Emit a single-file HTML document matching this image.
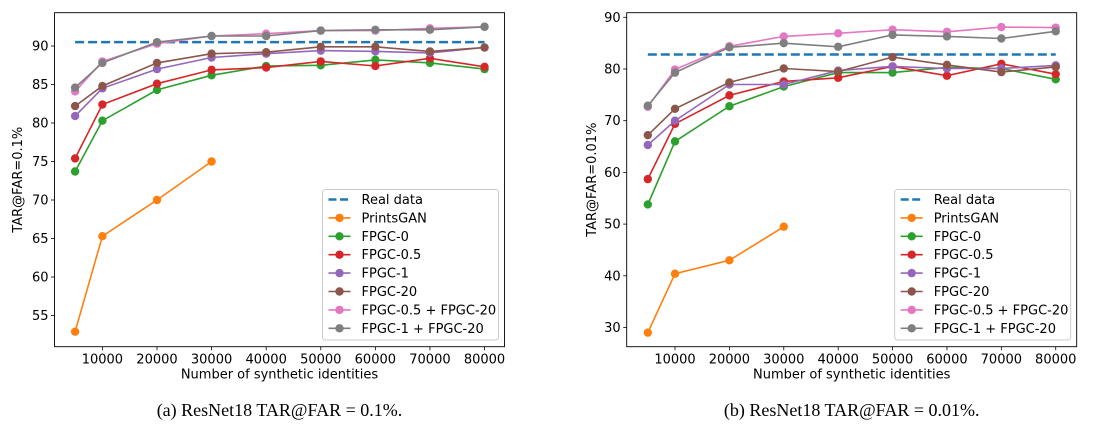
<!DOCTYPE html>
<html><head><meta charset="utf-8">
<style>
body{margin:0;background:#fff;}
svg text{font-family:"DejaVu Sans","Liberation Sans",sans-serif;}
</style></head>
<body>
<svg id="fig" width="1096" height="433" xmlns="http://www.w3.org/2000/svg"></svg>
<script>
const xCats = [5000,10000,20000,30000,40000,50000,60000,70000,80000];
const xTicks = [10000,20000,30000,40000,50000,60000,70000,80000];
const seriesNames = ["Real data","PrintsGAN","FPGC-0","FPGC-0.5","FPGC-1","FPGC-20","FPGC-0.5 + FPGC-20","FPGC-1 + FPGC-20"];
const seriesColors = ["#1f77b4","#ff7f0e","#2ca02c","#d62728","#9467bd","#8c564b","#e377c2","#7f7f7f"];
// Chart A: TAR@FAR=0.1%
const aReal = 90.5;
const aPrints = [52.9,65.3,70.0,75.0];
const aF0 = [73.7,80.3,84.3,86.2,87.4,87.5,88.2,87.8,87.0];
const aF05 = [75.4,82.4,85.1,86.9,87.2,88.0,87.4,88.4,87.3];
const aF1 = [80.9,84.5,87.0,88.5,89.0,89.4,89.3,89.1,89.8];
const aF20 = [82.2,84.8,87.8,89.0,89.2,89.9,89.9,89.3,89.8];
const aF05_20 = [84.1,88.0,90.3,91.3,91.6,92.0,92.0,92.3,92.5];
const aF1_20 = [84.6,87.8,90.5,91.3,91.3,92.0,92.1,92.1,92.5];
const aYTicks = [55,60,65,70,75,80,85,90];
// Chart B: TAR@FAR=0.01%
const bReal = 82.8;
const bPrints = [29.0,40.4,43.0,49.5];
const bF0 = [53.8,66.0,72.8,76.6,79.3,79.3,80.3,80.1,78.0];
const bF05 = [58.7,69.4,74.9,77.6,78.3,80.5,78.7,81.0,79.0];
const bF1 = [65.3,70.0,77.0,77.0,79.7,80.5,80.1,80.1,80.7];
const bF20 = [67.2,72.3,77.4,80.1,79.5,82.3,80.8,79.4,80.4];
const bF05_20 = [72.7,79.9,84.4,86.3,86.9,87.6,87.2,88.1,88.0];
const bF1_20 = [72.9,79.3,84.2,85.0,84.3,86.6,86.3,85.9,87.3];
const bYTicks = [30,40,50,60,70,80,90];

const NS="http://www.w3.org/2000/svg";
const svg=document.getElementById('fig');
function mk(tag,attrs,parent){const e=document.createElementNS(NS,tag);for(const k in attrs)e.setAttribute(k,attrs[k]);(parent||svg).appendChild(e);return e;}

function drawChart(cfg){
  const g=mk('g',{});
  
  
  const L=cfg.left,R=cfg.right,T=12.7,B=346.7;
  const xs=v=>cfg.x0px+(v-cfg.x0)*cfg.xpx;
  const ys=v=>cfg.y0px-(v-cfg.y0)*cfg.ypx;
  cfg.yTicks.forEach(t=>{
    const y=ys(t);
    mk('line',{x1:L-3.5,x2:L,y1:y,y2:y,stroke:'#000','stroke-width':0.8},g);
    const tx=mk('text',{x:L-6,y:y+4.5,'text-anchor':'end','font-size':13,fill:'#000'},g);
    tx.textContent=t;
    
    
  });
  xTicks.forEach(t=>{
    const x=xs(t);
    mk('line',{x1:x,x2:x,y1:B,y2:B+3.5,stroke:'#000','stroke-width':0.8},g);
    const tx=mk('text',{x:x,y:B+17,'text-anchor':'middle','font-size':13,fill:'#000'},g);
    tx.textContent=t;
    
    
  });
  const real=mk('line',{x1:xs(5000),x2:xs(80000),y1:ys(cfg.real),y2:ys(cfg.real),stroke:seriesColors[0],'stroke-width':2.5,'stroke-dasharray':'9,4'},g);
  
  
  cfg.series.forEach((vals,i)=>{
    const ci=i+1;
    const pts=vals.map((v,j)=>xs(xCats[j]).toFixed(1)+','+ys(v).toFixed(1)).join(' ');
    const pl=mk('polyline',{points:pts,fill:'none',stroke:seriesColors[ci],'stroke-width':1.6},g);
    
    
    vals.forEach((v,j)=>{
      const c=mk('circle',{cx:xs(xCats[j]),cy:ys(v),r:4.2,fill:seriesColors[ci]},g);
      
      
    });
  });
  mk('rect',{x:L,y:T,width:R-L,height:B-T,fill:'none',stroke:'#000','stroke-width':0.9},g);
  const xl=mk('text',{x:(L+R)/2,y:B+32,'text-anchor':'middle','font-size':13,fill:'#000'},g);
  xl.textContent='Number of synthetic identities';
  
  
  const yl=mk('text',{x:0,y:0,'text-anchor':'middle','font-size':13,fill:'#000',transform:`translate(${cfg.ylx},${(T+B)/2}) rotate(-90)`},g);
  yl.textContent=cfg.ylabel;
  
  
  const cap=mk('text',{x:(L+R)/2,y:416,'text-anchor':'middle','font-size':18,fill:'#000',style:'font-family:"Liberation Serif",serif'},g);
  cap.textContent=cfg.caption;
  
  
  const lw=176,lx=R-6-lw,ly=189.5,lh=150.5;
  const lg=mk('g',{},g);
  
  
  mk('rect',{x:lx,y:ly,width:lw,height:lh,rx:3,fill:'#fff',stroke:'#ccc','stroke-width':1},lg);
  seriesNames.forEach((n,i)=>{
    const y=ly+10+i*18.4;
    if(i===0){mk('line',{x1:lx+6,x2:lx+28,y1:y,y2:y,stroke:seriesColors[0],'stroke-width':2.5,'stroke-dasharray':'8,3.5'},lg);}
    else{mk('line',{x1:lx+6,x2:lx+28,y1:y,y2:y,stroke:seriesColors[i],'stroke-width':1.6},lg);
      mk('circle',{cx:lx+17,cy:y,r:4.2,fill:seriesColors[i]},lg);}
    const t=mk('text',{x:lx+39,y:y+4.5,'font-size':13,fill:'#000'},lg);
    t.textContent=n;
    
    
  });
}
drawChart({name:'chart-a',left:54.5,right:504.5,x0:10000,x0px:102.4,xpx:54.59/10000,y0:90,y0px:46,ypx:7.7,
  yTicks:aYTicks,real:aReal,series:[aPrints,aF0,aF05,aF1,aF20,aF05_20,aF1_20],ylx:22,ylabel:'TAR@FAR=0.1%',caption:'(a) ResNet18 TAR@FAR = 0.1%.'});
drawChart({name:'chart-b',left:626.7,right:1076.7,x0:10000,x0px:675,xpx:54.39/10000,y0:90,y0px:17.3,ypx:5.17,
  yTicks:bYTicks,real:bReal,series:[bPrints,bF0,bF05,bF1,bF20,bF05_20,bF1_20],ylx:596,ylabel:'TAR@FAR=0.01%',caption:'(b) ResNet18 TAR@FAR = 0.01%.'});
</script>
</body></html>
